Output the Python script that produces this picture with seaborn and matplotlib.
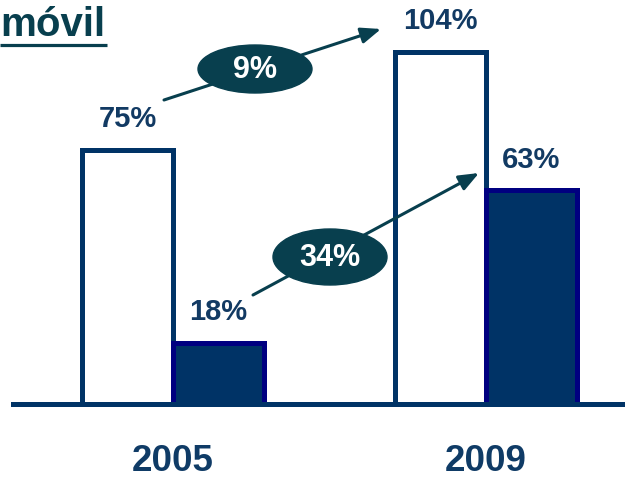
import matplotlib
matplotlib.use('Agg')
import matplotlib.pyplot as plt
import seaborn as sns
import pandas as pd
from matplotlib.patches import Ellipse

# ---- data ----
years = ['2005', '2009']
serie_claro = [75, 104]
serie_oscuro = [18, 63]
etiquetas_claro = ['75%', '104%']
etiquetas_oscuro = ['18%', '63%']
crecimientos = ['9%', '34%']
titulo = 'móvil'

sns.set_theme(style='white')
plt.rcParams['font.family'] = ['Liberation Sans', 'DejaVu Sans']

navy = '#003366'
edge_dark = '#000080'
label_col = '#123a63'
teal = '#083f4e'

df = pd.DataFrame({
    'year': years * 2,
    'serie': ['claro'] * len(years) + ['oscuro'] * len(years),
    'valor': serie_claro + serie_oscuro,
})

fig = plt.figure(figsize=(6.25, 4.79), dpi=100)
ax = fig.add_axes([0, 75 / 479, 1, 404 / 479])
sns.barplot(data=df, x='year', y='valor', hue='serie', order=years,
            hue_order=['claro', 'oscuro'], palette=['white', navy],
            width=0.58, gap=0, legend=False, saturation=1, ax=ax)

for container, ec, labs in zip(ax.containers, [navy, edge_dark],
                               [etiquetas_claro, etiquetas_oscuro]):
    for bar in container:
        bar.set_edgecolor(ec)
        bar.set_linewidth(3.6)
    ax.bar_label(container, labels=labs, padding=12, fontsize=21,
                 fontweight='bold', color=label_col)

ax.set_xlim(-0.5527, 1.4441)
ax.set_ylim(0, 119.2)
for s in ['left', 'top', 'right']:
    ax.spines[s].set_visible(False)
ax.spines['bottom'].set_linewidth(3.6)
ax.spines['bottom'].set_color(navy)
ax.spines['bottom'].set_bounds(-0.511, 1.4441)
ax.spines['bottom'].set_zorder(5)
ax.set_yticks([])
ax.set_xlabel('')
ax.set_ylabel('')
ax.tick_params(axis='x', length=0, pad=29, labelsize=26.5, labelcolor='#0f3b66')
for t in ax.get_xticklabels():
    t.set_fontweight('bold')
ax.patch.set_alpha(0)

# ---- overlay for arrows / ellipses / title ----
ax2 = fig.add_axes([0, 0, 1, 1], zorder=3)
ax2.set_xlim(0, 625)
ax2.set_ylim(479, 0)
ax2.axis('off')

arrows = [((164, 100), (381, 29)), ((253, 295), (479, 173))]
ells = [((255, 69), 114, 48), ((330, 257), 114, 56)]
for (start, end), (c, w, h), txt in zip(arrows, ells, crecimientos):
    ax2.annotate('', xy=end, xytext=start,
                 arrowprops=dict(arrowstyle='-|>,head_length=0.8,head_width=0.32',
                                 mutation_scale=15, color=teal, lw=2.2,
                                 shrinkA=0, shrinkB=0))
    ax2.add_patch(Ellipse(c, w, h, color=teal, zorder=4))
    ax2.text(c[0], c[1] + 1, txt, ha='center', va='center', color='white',
             fontsize=22, fontweight='bold', zorder=5)

ax2.text(0, 36, titulo, ha='left', va='baseline', color=teal,
         fontsize=29, fontweight='bold')
ax2.plot([0, 107], [44.5, 44.5], color=teal, lw=2.3, solid_capstyle='butt')

fig.savefig('out.png', dpi=100)
